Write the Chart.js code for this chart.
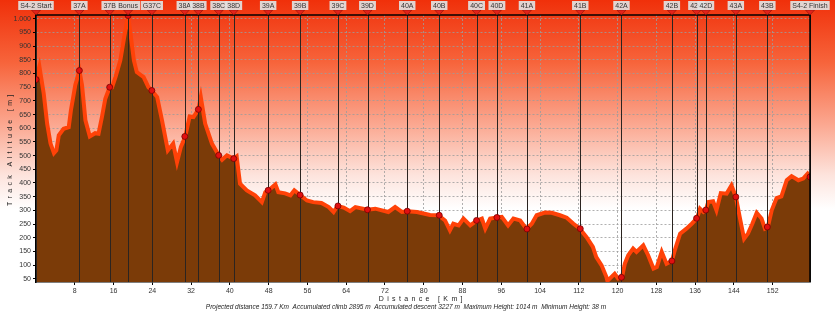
<!DOCTYPE html>
<html>
<head>
<meta charset="utf-8">
<script src="https://cdn.jsdelivr.net/npm/chart.js@4.4.1/dist/chart.umd.min.js"></script>
<style>
  html, body { margin: 0; padding: 0; background: #fff; }
  #profileChart { display: block; }
</style>
</head>
<body>
<canvas id="profileChart" width="835" height="312"></canvas>
<script>
// Track profile (distance in km, altitude in m)
const profileKm = [0, 0.7, 1.6, 2.3, 3.0, 3.7, 4.2, 4.7, 5.7, 6.75, 7.2, 8.1, 8.95, 9.5, 10.2, 11.1, 12.2, 12.9, 13.6, 14.3,
  15.2, 15.7, 16.4, 17.4, 18.2, 19.0, 19.5, 20.2, 20.8, 22.2, 23.2, 23.9, 25.0, 26.0, 27.2, 28.3, 29.1, 29.9, 30.8, 31.7,
  32.5, 33.5, 34.0, 34.9, 36.3, 37.7, 38.4, 39.4, 40.8, 41.4, 42.1, 43.5, 45.2, 46.6, 47.3, 48.0, 49.4, 50.0, 51.4, 52.5,
  53.3, 54.5, 55.9, 57.2, 58.9, 60.4, 61.4, 62.2, 63.5, 64.8, 65.9, 68.4, 70.0, 72.7, 74.1, 75.5, 76.7, 78.6, 81.3, 83.0,
  84.4, 85.4, 86.1, 87.2, 88.2, 89.6, 91.0, 92.0, 92.7, 93.7, 95.1, 96.1, 97.4, 98.5, 99.9, 101.2, 102.3, 103.3, 105.0, 106.4,
  108.1, 109.5, 110.9, 112.2, 113.6, 114.9, 115.6, 116.7, 117.7, 117.9, 118.7, 119.4, 120.1, 120.9, 121.5, 122.2, 123.2, 123.9, 125.3,
  126.3, 127.4, 128.1, 129.1, 130.1, 131.2, 131.8, 132.9, 134.2, 135.3, 136.4, 137.0, 137.7, 138.2, 138.7, 139.7, 140.4, 141.3,
  142.5, 143.5, 144.4, 145.2, 146.1, 146.9, 147.8, 148.7, 149.7, 150.4, 151.0, 151.8, 152.8, 153.8, 154.9, 155.9, 157.3, 158.3,
  159.2, 159.7];
const profileAlt = [778, 826, 726, 617, 544, 509, 519, 574, 598, 604, 665, 757, 811, 757, 629, 570, 582, 580, 641, 708,
  750, 750, 787, 848, 933, 1012, 945, 848, 805, 787, 750, 738, 714, 629, 519, 544, 476, 532, 570, 643,
  641, 669, 714, 617, 544, 501, 485, 501, 489, 497, 397, 373, 355, 330, 366, 373, 395, 366, 362, 355,
  373, 356, 336, 330, 327, 312, 294, 316, 310, 297, 312, 302, 306, 294, 312, 294, 297, 294, 283, 282,
  263, 227, 251, 245, 270, 245, 263, 270, 233, 270, 274, 276, 245, 270, 263, 232, 251, 282, 292, 291,
  282, 273, 251, 233, 202, 166, 129, 99, 56, 42, 56, 68, 51, 55, 105, 136, 160, 148, 172,
  136, 87, 93, 148, 105, 115, 154, 215, 233, 251, 271, 306, 294, 301, 330, 333, 300, 363,
  361, 391, 349, 275, 196, 215, 251, 291, 270, 233, 239, 300, 345, 351, 410, 425, 410, 416,
  434, 422];

// Waypoints
const waypointNames = ['S4-2 Start', '37A', '37B', 'Bonus', 'G37C', '38A', '38B', '38C', '38D', '39A', '39B', '39C', '39D',
  '40A', '40B', '40C', '40D', '41A', '41B', '42A', '42B', '42C', '42D', '43A', '43B', 'S4-2 Finish'];
const waypointKm = [0, 8.95, 15.2, 19.0, 23.9, 30.7, 33.5, 37.7, 40.8, 47.9, 54.5, 62.3, 68.4,
  76.6, 83.2, 90.9, 95.1, 101.3, 112.3, 120.8, 131.2, 136.3, 138.2, 144.4, 150.9, 159.7];
const waypointAlt = [778, 811, 750, 1012, 738, 570, 669, 501, 489, 373, 356, 316, 302,
  297, 282, 263, 274, 232, 233, 55, 115, 271, 301, 349, 239, 422];

// Axis ticks
const xTicks = [8, 16, 24, 32, 40, 48, 56, 64, 72, 80, 88, 96, 104, 112, 120, 128, 136, 144, 152];
const yTicks = [50, 100, 150, 200, 250, 300, 350, 400, 450, 500, 550, 600, 650, 700, 750, 800, 850, 900, 950, 1000];

const footerText = 'Projected distance 159.7 Km  Accumulated climb 2895 m  Accumulated descent 3227 m  Maximum Height: 1014 m  Minimum Height: 38 m';
const FONT = '"Liberation Sans", Arial, sans-serif';

// background gradient + frame + waypoint markers
const profileDecor = {
    id: 'profileDecor',
    beforeDraw(chart) {
        const ctx = chart.ctx;
        const g = ctx.createLinearGradient(0, 0, 0, chart.height);
        g.addColorStop(0, '#f0300a');
        g.addColorStop(0.2, '#f7643b');
        g.addColorStop(0.4, '#fba891');
        g.addColorStop(0.56, '#fde3dc');
        g.addColorStop(0.67, '#ffffff');
        g.addColorStop(1, '#ffffff');
        ctx.save();
        ctx.fillStyle = g;
        ctx.fillRect(0, 0, chart.width, chart.height);
        ctx.restore();
    },
    afterDatasetDraw(chart, args) {
        if (args.index !== 0) return;
        const ctx = chart.ctx;
        const area = chart.chartArea;
        const xs = chart.scales.x;
        ctx.save();
        ctx.strokeStyle = '#2b2420';
        ctx.lineWidth = 1;
        waypointKm.forEach(km => {
            const x = Math.round(xs.getPixelForValue(km)) + 0.5;
            ctx.beginPath();
            ctx.moveTo(x, area.top);
            ctx.lineTo(x, area.bottom);
            ctx.stroke();
        });
        ctx.restore();
    },
    afterDraw(chart) {
        const ctx = chart.ctx;
        const area = chart.chartArea;
        const xs = chart.scales.x;
        ctx.save();
        // frame top / right
        ctx.strokeStyle = '#000';
        ctx.lineWidth = 1.5;
        ctx.beginPath();
        ctx.moveTo(area.left, area.top);
        ctx.lineTo(area.right, area.top);
        ctx.lineTo(area.right, area.bottom);
        ctx.stroke();

        // triangles + labels
        ctx.font = '7px ' + FONT;
        ctx.textAlign = 'center';
        ctx.textBaseline = 'middle';
        waypointKm.forEach((km, i) => {
            const x = xs.getPixelForValue(km);
            ctx.fillStyle = '#e3221a';
            ctx.strokeStyle = '#8a1008';
            ctx.lineWidth = 0.6;
            ctx.beginPath();
            ctx.moveTo(x - 4.5, area.top - 5);
            ctx.lineTo(x + 4.5, area.top - 5);
            ctx.lineTo(x, area.top);
            ctx.closePath();
            ctx.fill();
            ctx.stroke();

            const name = waypointNames[i];
            const w = ctx.measureText(name).width + 4;
            let cx = x;
            cx = Math.max(cx, w / 2 + 1);
            cx = Math.min(cx, chart.width - w / 2 - 1);
            ctx.fillStyle = 'rgba(226, 226, 226, 0.92)';
            ctx.fillRect(cx - w / 2, 1, w, 9);
            ctx.fillStyle = '#333';
            ctx.fillText(name, cx, 5.8);
        });

        // axis titles
        ctx.fillStyle = '#222';
        ctx.font = '7px ' + FONT;
        ctx.letterSpacing = '0.7px';
        ctx.fillText('D i s t a n c e   [ K m ]', 421, 299);
        ctx.save();
        ctx.translate(10, 150);
        ctx.rotate(-Math.PI / 2);
        ctx.fillText('T r a c k   A l t i t u d e   [ m ]', 0, 0);
        ctx.restore();
        ctx.letterSpacing = '0px';

        // footer
        ctx.font = 'italic 6.5px ' + FONT;
        ctx.fillStyle = '#222';
        ctx.fillText(footerText, 406, 307);
        ctx.restore();
    }
};

function initializeChart() {
    const ctx = document.getElementById('profileChart').getContext('2d');

    new Chart(ctx, {
        type: 'line',
        data: {
            datasets: [
                {
                    label: 'Altitude',
                    data: profileKm.map((km, i) => ({ x: km, y: profileAlt[i] })),
                    borderColor: '#ff4208',
                    borderWidth: 4,
                    backgroundColor: '#7b3b08',
                    fill: 'start',
                    pointRadius: 0,
                    tension: 0,
                    order: 2
                },
                {
                    label: 'Waypoints',
                    type: 'scatter',
                    data: waypointKm.map((km, i) => ({ x: km, y: waypointAlt[i] })),
                    pointRadius: 3,
                    pointBackgroundColor: '#e01010',
                    pointBorderColor: '#7a0000',
                    pointBorderWidth: 0.8,
                    showLine: false,
                    order: 1
                }
            ]
        },
        options: {
            responsive: false,
            animation: false,
            layout: { padding: { left: 0, top: 15, right: 25, bottom: 0 } },
            plugins: {
                legend: { display: false },
                tooltip: { enabled: false }
            },
            scales: {
                x: {
                    type: 'linear',
                    min: 0,
                    max: 159.7,
                    afterBuildTicks: scale => { scale.ticks = xTicks.map(v => ({ value: v })); },
                    afterFit: scale => { scale.height = 30; },
                    grid: {
                        color: '#9c9c9c',
                        lineWidth: 0.8,
                        tickLength: 3,
                        tickColor: '#000',
                        tickWidth: 1
                    },
                    border: { display: true, color: '#000', width: 1.5, dash: [2, 2] },
                    ticks: {
                        autoSkip: false,
                        maxRotation: 0,
                        padding: 2,
                        color: '#333',
                        font: { family: FONT, size: 7 }
                    }
                },
                y: {
                    min: 38,
                    max: 1014,
                    afterBuildTicks: scale => { scale.ticks = yTicks.map(v => ({ value: v })); },
                    afterFit: scale => { scale.width = 36; },
                    grid: {
                        color: '#9c9c9c',
                        lineWidth: 0.8,
                        tickLength: 3,
                        tickColor: '#000',
                        tickWidth: 1
                    },
                    border: { display: true, color: '#000', width: 1.5, dash: [2, 2] },
                    ticks: {
                        padding: 2,
                        color: '#333',
                        font: { family: FONT, size: 7 },
                        callback: value => value >= 1000 ? value.toLocaleString('de-DE') : String(value)
                    }
                }
            }
        },
        plugins: [profileDecor]
    });
}

document.addEventListener('DOMContentLoaded', initializeChart);
</script>
</body>
</html>
